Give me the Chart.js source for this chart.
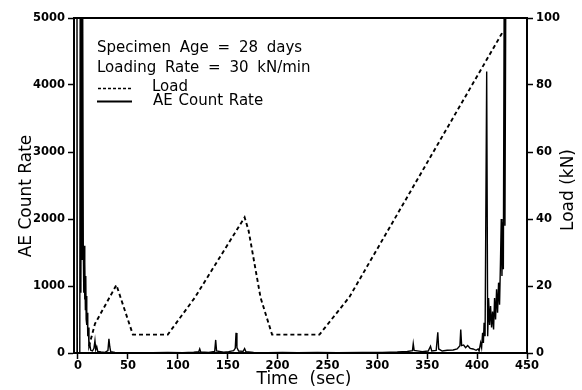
<!DOCTYPE html>
<html>
<head>
<meta charset="utf-8">
<script src="https://cdn.jsdelivr.net/npm/chart.js@4.4.1/dist/chart.umd.min.js"></script>
<style>
  html, body { margin: 0; padding: 0; background: #fff; }
  #wrap { width: 582px; height: 390px; }
</style>
</head>
<body>
<div id="wrap"><canvas id="aeChart" width="582" height="390"></canvas></div>
<script>
// load history (sec, kN)
const loadTime = [11, 17, 38.5, 55, 90, 117, 167, 171, 183, 194.5, 242, 272, 426];
const loadKN   = [2, 8.7, 20.3, 5.5, 5.5, 16.5, 40.5, 36.5, 16.5, 5.5, 5.5, 16.7, 96];

// AE count rate (sec, counts)
const aeTime = [
  -1.3, -1, -0.7, 1.8, 2.2, 2.9, 3.5, 4.1, 4.7, 5.3, 5.8, 6.2, 6.6, 7, 7.4, 7.8, 8.2, 8.6, 9, 9.4,
  9.8, 10.4, 11, 11.8, 12.8, 14.5, 16, 17, 17.8, 18.8, 19.8, 23, 27, 30, 31, 31.9, 32.8, 37, 45, 60,
  75, 90, 105, 116, 121, 122, 123, 131, 137, 138, 138.9, 146, 151, 156, 157.6, 158.4, 159.3, 161, 165.5, 167,
  168.3, 176, 190, 205, 220, 240, 260, 285, 305, 320, 330, 335.2, 336, 336.9, 345, 351, 353.3, 354.5, 359, 360.6,
  361.5, 365, 370, 376, 380, 382.8, 383.6, 384.5, 386.5, 388.5, 390.5, 393, 396, 399, 401, 402, 403.5, 404.5, 405.5, 406.3,
  407, 408, 409.6, 410.6, 411.5, 412.5, 413.5, 414.5, 415.5, 416.5, 417.5, 418.5, 419.5, 420.5, 421.5, 422.5, 423.4, 424.2, 424.9, 425.6,
  426.3, 427.1, 427.9, 428.7, 429.4
];
const aeCount = [
  0, 5200, 0, 0, 5200, 900, 5200, 1400, 5200, 1600, 900, 1600, 800, 1350, 650, 1150, 500, 850, 420, 600,
  250, 380, 90, 130, 40, 30, 70, 185, 50, 95, 25, 15, 10, 35, 210, 90, 20, 10, 5, 6,
  4, 8, 6, 12, 20, 60, 15, 10, 25, 195, 30, 12, 20, 35, 70, 300, 80, 30, 25, 65,
  20, 10, 6, 8, 5, 8, 5, 8, 10, 14, 22, 35, 140, 40, 20, 30, 100, 30, 40, 310,
  60, 30, 40, 45, 60, 110, 350, 110, 120, 80, 110, 70, 60, 40, 60, 30, 150, 80, 300, 150,
  450, 250, 4200, 250, 820, 420, 700, 380, 620, 350, 820, 500, 950, 600, 1050, 720, 1350, 2000, 1150, 1950,
  1250, 5200, 1900, 5200, 5200
];

const timeTicks = [0, 50, 100, 150, 200, 250, 300, 350, 400, 450];
const countTicks = [0, 1000, 2000, 3000, 4000, 5000];
const loadTicks = [0, 20, 40, 60, 80, 100];

const tickFont = { family: "DejaVu Sans", size: 11.5, weight: "bold" };
const textFont = "DejaVu Sans";

// frame top, axis titles and the note/legend block
const annotations = {
  id: "annotations",
  afterDraw(chart) {
    const { ctx, chartArea: a } = chart;
    ctx.save();
    ctx.strokeStyle = "#000";
    ctx.lineWidth = 2;
    ctx.beginPath();
    ctx.moveTo(a.left - 1, a.top);
    ctx.lineTo(a.right + 1, a.top);
    ctx.stroke();

    ctx.fillStyle = "#000";
    ctx.textBaseline = "alphabetic";

    // axis titles
    ctx.font = `17px ${textFont}`;
    ctx.textAlign = "center";
    ctx.wordSpacing = "6px";
    ctx.fillText("Time (sec)", 304, 384);
    ctx.wordSpacing = "0px";

    ctx.save();
    ctx.translate(31, 196);
    ctx.rotate(-Math.PI / 2);
    ctx.fillText("AE Count Rate", 0, 0);
    ctx.restore();

    ctx.save();
    ctx.translate(573, 190);
    ctx.rotate(-Math.PI / 2);
    ctx.fillText("Load (kN)", 0, 0);
    ctx.restore();

    // notes
    ctx.font = `15px ${textFont}`;
    ctx.textAlign = "left";
    ctx.wordSpacing = "4px";
    ctx.fillText("Specimen Age = 28 days", 97, 52);
    ctx.fillText("Loading Rate = 30 kN/min", 97, 72);
    ctx.wordSpacing = "1px";
    ctx.fillText("Load", 152, 91);
    ctx.fillText("AE Count Rate", 153, 105);

    // legend samples
    ctx.lineWidth = 1.5;
    ctx.setLineDash([3, 2]);
    ctx.beginPath();
    ctx.moveTo(98, 88.5);
    ctx.lineTo(132, 88.5);
    ctx.stroke();
    ctx.setLineDash([]);
    ctx.lineWidth = 1.8;
    ctx.beginPath();
    ctx.moveTo(97, 101.5);
    ctx.lineTo(132, 101.5);
    ctx.stroke();
    ctx.restore();
  }
};

const axisStyle = {
  grid: { drawOnChartArea: false, drawTicks: true, tickLength: 6, tickColor: "#000", tickWidth: 1.5 },
  border: { display: true, color: "#000", width: 2 }
};

const plainLabel = v => String(v);

new Chart(document.getElementById("aeChart"), {
  type: "line",
  data: {
    datasets: [
      {
        label: "AE Count Rate",
        data: aeTime.map((t, i) => ({ x: t, y: aeCount[i] })),
        borderColor: "#000",
        borderWidth: 1.4,
        yAxisID: "y",
        pointRadius: 0,
        tension: 0
      },
      {
        label: "Load",
        data: loadTime.map((t, i) => ({ x: t, y: loadKN[i] })),
        borderColor: "#000",
        borderWidth: 1.9,
        borderDash: [4, 3],
        yAxisID: "y1",
        pointRadius: 0,
        tension: 0
      }
    ]
  },
  options: {
    responsive: false,
    animation: false,
    layout: { padding: { top: 18, left: 0, right: 0, bottom: 0 } },
    plugins: { legend: { display: false }, tooltip: { enabled: false } },
    scales: {
      x: {
        type: "linear",
        min: -4,
        max: 450,
        afterBuildTicks: s => { s.ticks = timeTicks.map(v => ({ value: v })); },
        afterFit: s => { s.height = 390 - 353; },
        ...axisStyle,
        ticks: { color: "#000", font: tickFont, padding: 0, maxRotation: 0, autoSkip: false, callback: plainLabel }
      },
      y: {
        position: "left",
        min: 0,
        max: 5000,
        afterBuildTicks: s => { s.ticks = countTicks.map(v => ({ value: v })); },
        afterFit: s => { s.width = 74; },
        ...axisStyle,
        ticks: { color: "#000", font: tickFont, padding: 3, callback: plainLabel }
      },
      y1: {
        position: "right",
        min: 0,
        max: 100,
        afterBuildTicks: s => { s.ticks = loadTicks.map(v => ({ value: v })); },
        afterFit: s => { s.width = 582 - 527; },
        ...axisStyle,
        ticks: { color: "#000", font: tickFont, padding: 3, callback: plainLabel }
      }
    }
  },
  plugins: [annotations]
});
</script>
</body>
</html>
